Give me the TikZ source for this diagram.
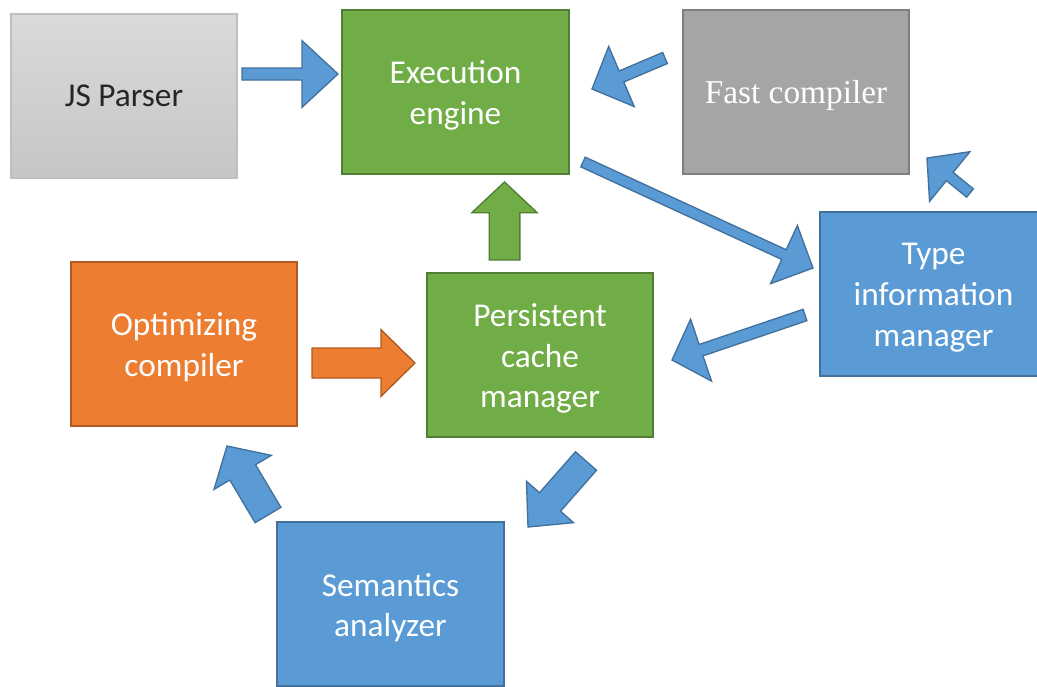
\documentclass[tikz,border=0pt]{standalone}
\usepackage{fontspec}
\setmainfont{Carlito}
\newfontfamily\serifface{Liberation Serif}
\usetikzlibrary{calc}
\definecolor{bluefill}{HTML}{5B9BD5}
\definecolor{blueline}{HTML}{41719C}
\definecolor{greenfill}{HTML}{70AD47}
\definecolor{greenline}{HTML}{507E32}
\definecolor{orangefill}{HTML}{ED7D31}
\definecolor{orangeline}{HTML}{AE5A21}
\definecolor{grayfill}{HTML}{A5A5A5}
\definecolor{grayline}{HTML}{7F7F7F}
\definecolor{lighttop}{HTML}{DADADA}
\definecolor{lightbot}{HTML}{C6C6C6}
\definecolor{lightline}{HTML}{BFBFBF}
\definecolor{darktext}{HTML}{262626}
\tikzset{
  box/.style={rectangle, minimum width=170pt, minimum height=123pt, inner sep=0pt,
    line width=1.5pt},
  boxtext/.style={align=center, text=white, inner sep=0pt, yshift=-2.7pt,
    font=\fontsize{25pt}{30.5pt}\selectfont},
  greenbox/.style={box, fill=greenfill, draw=greenline},
  bluebox/.style={box, fill=bluefill, draw=blueline},
  orangebox/.style={box, fill=orangefill, draw=orangeline},
  graybox/.style={box, fill=grayfill, draw=grayline},
  lightbox/.style={box, top color=lighttop, bottom color=lightbot, draw=lightline},
  bluearrow/.style={fill=bluefill, draw=blueline, line width=1pt, line join=miter},
  greenarrow/.style={fill=greenfill, draw=greenline, line width=1pt, line join=miter},
  orangearrow/.style={fill=orangefill, draw=orangeline, line width=1pt, line join=miter},
}
% #1 style, #2 tail, #3 tip, #4 shaft half width, #5 head half width, #6 head length
\newcommand\blockarrow[6]{%
  \coordinate (ahbase) at ($(#3)!#6!(#2)$);
  \draw[#1] ($(#2)!#4!90:(#3)$) -- ($(ahbase)!#4!90:(#3)$) -- ($(ahbase)!#5!90:(#3)$)
    -- (#3) -- ($(ahbase)!#5!-90:(#3)$) -- ($(ahbase)!#4!-90:(#3)$)
    -- ($(#2)!#4!-90:(#3)$) -- cycle;
}
\begin{document}
\begin{tikzpicture}[x=0.75pt,y=-0.75pt]
\clip (0,0) rectangle (1037,686);
\fill[white] (0,0) rectangle (1037,686);

\node[lightbox, label={[boxtext, text=darktext, yshift=2.7pt]center:JS Parser}] (js) at (124,95.5) {};
\node[greenbox, label={[boxtext]center:{Execution\\engine}}] (exec) at (455.5,92) {};
\node[graybox, label={[boxtext, font=\serifface\fontsize{25pt}{30pt}\selectfont]center:Fast compiler}] (fast) at (796,92) {};
\node[bluebox, label={[boxtext]center:{Type\\information\\manager}}] (type) at (933.5,294) {};
\node[orangebox, label={[boxtext]center:{Optimizing\\compiler}}] (opt) at (184,343.5) {};
\node[greenbox, label={[boxtext]center:{Persistent\\cache\\manager}}] (pers) at (540,355) {};
\node[bluebox, label={[boxtext]center:{Semantics\\analyzer}}] (sem) at (390.5,604) {};

% arrow end points
\coordinate (a1t) at (242,74);  \coordinate (a1h) at (338,74);
\coordinate (a2t) at (665,58);  \coordinate (a2h) at (592,89);
\coordinate (a3t) at (583,162); \coordinate (a3h) at (813,268);
\coordinate (a4t) at (970,193); \coordinate (a4h) at (927,158);
\coordinate (a5t) at (805,315); \coordinate (a5h) at (672,360);
\coordinate (a6t) at (504.5,260); \coordinate (a6h) at (504.5,182);
\coordinate (a7t) at (312,363); \coordinate (a7h) at (415,363);
\coordinate (a8t) at (586,461); \coordinate (a8h) at (528,527);
\coordinate (a9t) at (268,515); \coordinate (a9h) at (227,446);

\blockarrow{bluearrow}{a1t}{a1h}{4.5pt}{25pt}{27pt}
\blockarrow{bluearrow}{a2t}{a2h}{4.5pt}{24.5pt}{24pt}
\blockarrow{bluearrow}{a3t}{a3h}{4pt}{24pt}{24pt}
\blockarrow{bluearrow}{a4t}{a4h}{4pt}{24pt}{22pt}
\blockarrow{bluearrow}{a5t}{a5h}{4.5pt}{24.5pt}{23pt}
\blockarrow{greenarrow}{a6t}{a6h}{11.5pt}{24.5pt}{23pt}
\blockarrow{orangearrow}{a7t}{a7h}{11.25pt}{25pt}{25.5pt}
\blockarrow{bluearrow}{a8t}{a8h}{10.5pt}{23.5pt}{25pt}
\blockarrow{bluearrow}{a9t}{a9h}{11.25pt}{25pt}{23pt}
\end{tikzpicture}
\end{document}
